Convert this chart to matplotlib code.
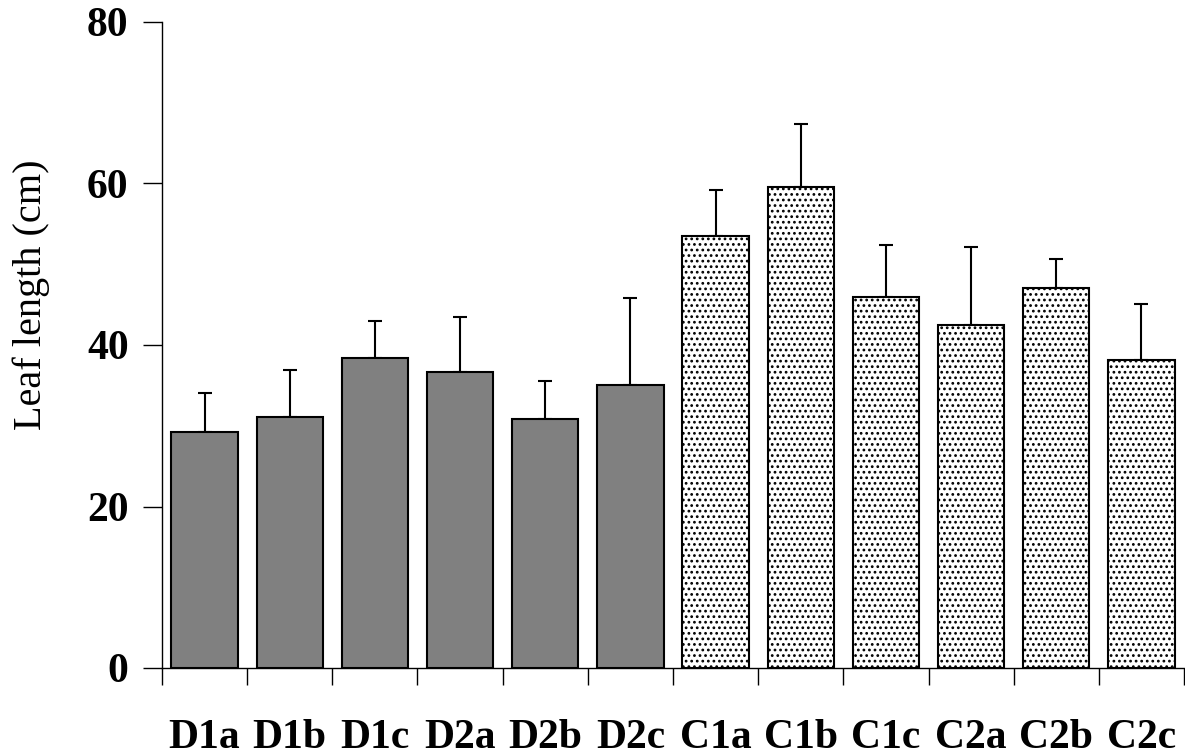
import matplotlib
matplotlib.use("Agg")
import matplotlib.pyplot as plt
import numpy as np

categories = ["D1a", "D1b", "D1c", "D2a", "D2b", "D2c",
              "C1a", "C1b", "C1c", "C2a", "C2b", "C2c"]
means = [29.2, 31.1, 38.4, 36.7, 30.8, 35.0,
         53.5, 59.6, 46.0, 42.5, 47.0, 38.1]
upper = [34.1, 36.9, 43.0, 43.5, 35.5, 45.8,
         59.2, 67.4, 52.4, 52.1, 50.7, 45.1]
errors = [u - m for u, m in zip(upper, means)]
groups = ["D"] * 6 + ["C"] * 6
yticks = [0, 20, 40, 60, 80]

plt.rcParams['hatch.linewidth'] = 1.2
plt.rcParams['hatch.color'] = '#222222'

W, H = 1185, 756
fig = plt.figure(figsize=(W / 100, H / 100), dpi=100)
ax = fig.add_axes([162 / W, (H - 668) / H, (1184 - 162) / W, (668 - 22) / H])

x = np.arange(len(categories))
for xi, m, e, g in zip(x, means, errors, groups):
    if g == "D":
        ax.bar(xi, m, width=0.78, color="#808080", edgecolor="black", linewidth=1.5, zorder=2)
    else:
        ax.bar(xi, m, width=0.78, color="white", edgecolor="black", linewidth=1.5,
               hatch="...", zorder=2)
    ax.errorbar(xi, m, yerr=[[0], [e]], fmt="none", ecolor="black", elinewidth=1.5,
                capsize=5.3, capthick=1.5, zorder=1)

ax.set_xlim(-0.5, len(categories) - 0.5)
ax.set_ylim(0, 80)
ax.spines["top"].set_visible(False)
ax.spines["right"].set_visible(False)
ax.spines["left"].set_linewidth(1.0)
ax.spines["bottom"].set_linewidth(1.0)

ax.set_xticks(x)
ax.set_xticklabels(categories, fontfamily="Liberation Serif", fontweight="bold", fontsize=30)
ax.tick_params(axis="x", which="major", length=0, pad=37)
ax.set_xticks(np.arange(-0.5, len(categories)), minor=True)
ax.tick_params(axis="x", which="minor", length=12, width=1.0, direction="out")

ax.set_yticks(yticks)
ax.set_yticklabels([str(v) for v in yticks], fontfamily="Liberation Serif",
                   fontweight="bold", fontsize=30)
ax.tick_params(axis="y", length=14, width=1.0, pad=10, direction="out")

ax.set_ylabel("Leaf length (cm)", fontfamily="Liberation Serif", fontsize=29)
ax.yaxis.set_label_coords(50 / W, (H - 295) / H, transform=fig.transFigure)

fig.savefig("out.png", dpi=100)
